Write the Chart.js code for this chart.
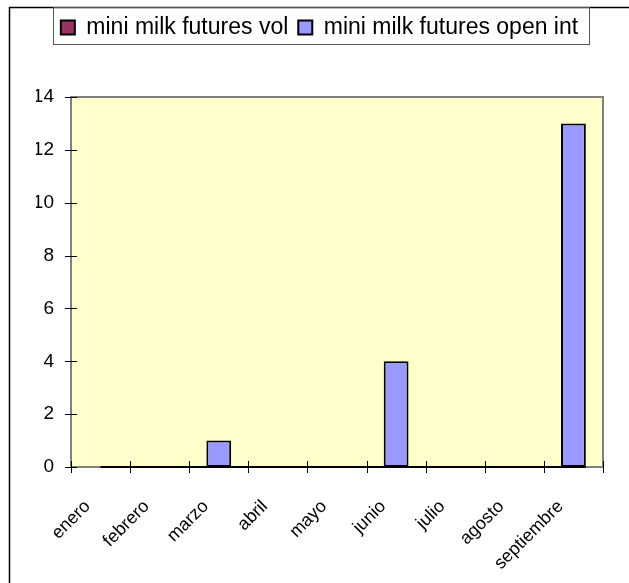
<!DOCTYPE html>
<html>
<head>
<meta charset="utf-8">
<script src="https://cdn.jsdelivr.net/npm/chart.js@4/dist/chart.umd.min.js"></script>
<style>
  html, body { margin: 0; padding: 0; background: #fff; }
  canvas { display: block; }
</style>
</head>
<body>
<canvas id="chart" width="629" height="583"></canvas>
<script>
var months = ['enero', 'febrero', 'marzo', 'abril', 'mayo', 'junio', 'julio', 'agosto', 'septiembre'];
var volValues = [0, 0, 0, 0, 0, 0, 0, 0, 0];
var openIntValues = [0, 0, 1, 0, 0, 4, 0, 0, 13];
var yTicks = [0, 2, 4, 6, 8, 10, 12, 14];

var FONT = 'Arial, "Liberation Sans", sans-serif';

// plot area, border, crossing tick marks, outer frame, legend frame
var excelLook = {
    id: 'excelLook',
    beforeLayout: function (chart) {
        var lg = chart.legend;
        if (lg && !lg._patched) {
            var fit = lg.fit;
            lg.fit = function () {
                fit.call(this);
                this.height = 91;
            };
            lg._patched = true;
        }
    },
    beforeDatasetsDraw: function (chart) {
        var ctx = chart.ctx, a = chart.chartArea;
        ctx.save();
        ctx.fillStyle = '#FFFFCC';
        ctx.fillRect(a.left, a.top, a.right - a.left, a.bottom - a.top);
        ctx.strokeStyle = '#808080';
        ctx.lineWidth = 2;
        ctx.strokeRect(a.left, a.top, a.right - a.left, a.bottom - a.top);
        ctx.restore();
    },
    afterDatasetsDraw: function (chart) {
        var ctx = chart.ctx, a = chart.chartArea;
        var x = chart.scales.x, y = chart.scales.y;
        ctx.save();
        // black base line under the bars
        var els = chart.getDatasetMeta(1).data;
        var first = els[0], last = els[els.length - 1];
        ctx.strokeStyle = '#000';
        ctx.lineWidth = 2;
        ctx.beginPath();
        ctx.moveTo(first.x, a.bottom);
        ctx.lineTo(last.x + last.width / 2, a.bottom);
        ctx.stroke();
        // tick marks
        ctx.lineWidth = 1;
        ctx.beginPath();
        yTicks.forEach(function (v) {
            var py = Math.round(y.getPixelForValue(v)) + 0.5;
            ctx.moveTo(a.left - 6, py);
            ctx.lineTo(a.left + 6, py);
        });
        for (var i = 0; i <= months.length; i++) {
            var px = Math.round(x.getPixelForValue(i - 0.5)) + 0.5;
            ctx.moveTo(px, a.bottom - 6);
            ctx.lineTo(px, a.bottom + 6);
        }
        ctx.stroke();
        ctx.restore();
    },
    afterDraw: function (chart) {
        var ctx = chart.ctx;
        ctx.save();
        // outer chart frame (cut at the right and bottom)
        ctx.strokeStyle = '#000';
        ctx.lineWidth = 1.5;
        ctx.beginPath();
        ctx.moveTo(9.5, chart.height);
        ctx.lineTo(9.5, 7.5);
        ctx.lineTo(chart.width, 7.5);
        ctx.stroke();
        // legend frame
        var hb = chart.legend.legendHitBoxes;
        if (hb && hb.length) {
            var l = hb[0].left - 8;
            var r = hb[hb.length - 1].left + hb[hb.length - 1].width + 11;
            ctx.strokeStyle = '#555';
            ctx.lineWidth = 1;
            ctx.strokeRect(Math.round(l) + 0.5, 7.5, Math.round(r - l), 37);
        }
        ctx.restore();
    }
};

new Chart(document.getElementById('chart'), {
    type: 'bar',
    data: {
        labels: months,
        datasets: [{
            label: 'mini milk futures vol',
            data: volValues,
            backgroundColor: '#993366',
            borderColor: '#000',
            borderWidth: 2,
            borderSkipped: false,
            grouped: false,
            categoryPercentage: 0.42,
            barPercentage: 1
        }, {
            label: 'mini milk futures open int',
            data: openIntValues,
            backgroundColor: '#9999FF',
            borderColor: '#000',
            borderWidth: 2,
            borderSkipped: false,
            grouped: false,
            categoryPercentage: 0.42,
            barPercentage: 1
        }]
    },
    options: {
        responsive: false,
        animation: false,
        layout: {
            padding: { top: 6, right: 26, left: 36, bottom: 0 }
        },
        plugins: {
            tooltip: { enabled: false },
            legend: {
                position: 'top',
                labels: {
                    boxWidth: 14,
                    boxHeight: 14,
                    padding: 10,
                    color: '#000',
                    font: { family: FONT, size: 23 }
                }
            }
        },
        scales: {
            x: {
                grid: { display: false, drawTicks: false },
                border: { display: false },
                ticks: {
                    color: '#000',
                    font: { family: FONT, size: 18 },
                    maxRotation: 45,
                    minRotation: 45,
                    autoSkip: false,
                    padding: 29,
                    labelOffset: -13
                },
                afterFit: function (scale) { scale.height = 116; }
            },
            y: {
                min: 0,
                max: 14,
                grid: { display: false, drawTicks: false },
                border: { display: false },
                ticks: {
                    stepSize: 2,
                    color: '#000',
                    font: { family: FONT, size: 19 },
                    padding: 17
                },
                afterFit: function (scale) { scale.width = 35; }
            }
        }
    },
    plugins: [excelLook]
});
</script>
</body>
</html>
